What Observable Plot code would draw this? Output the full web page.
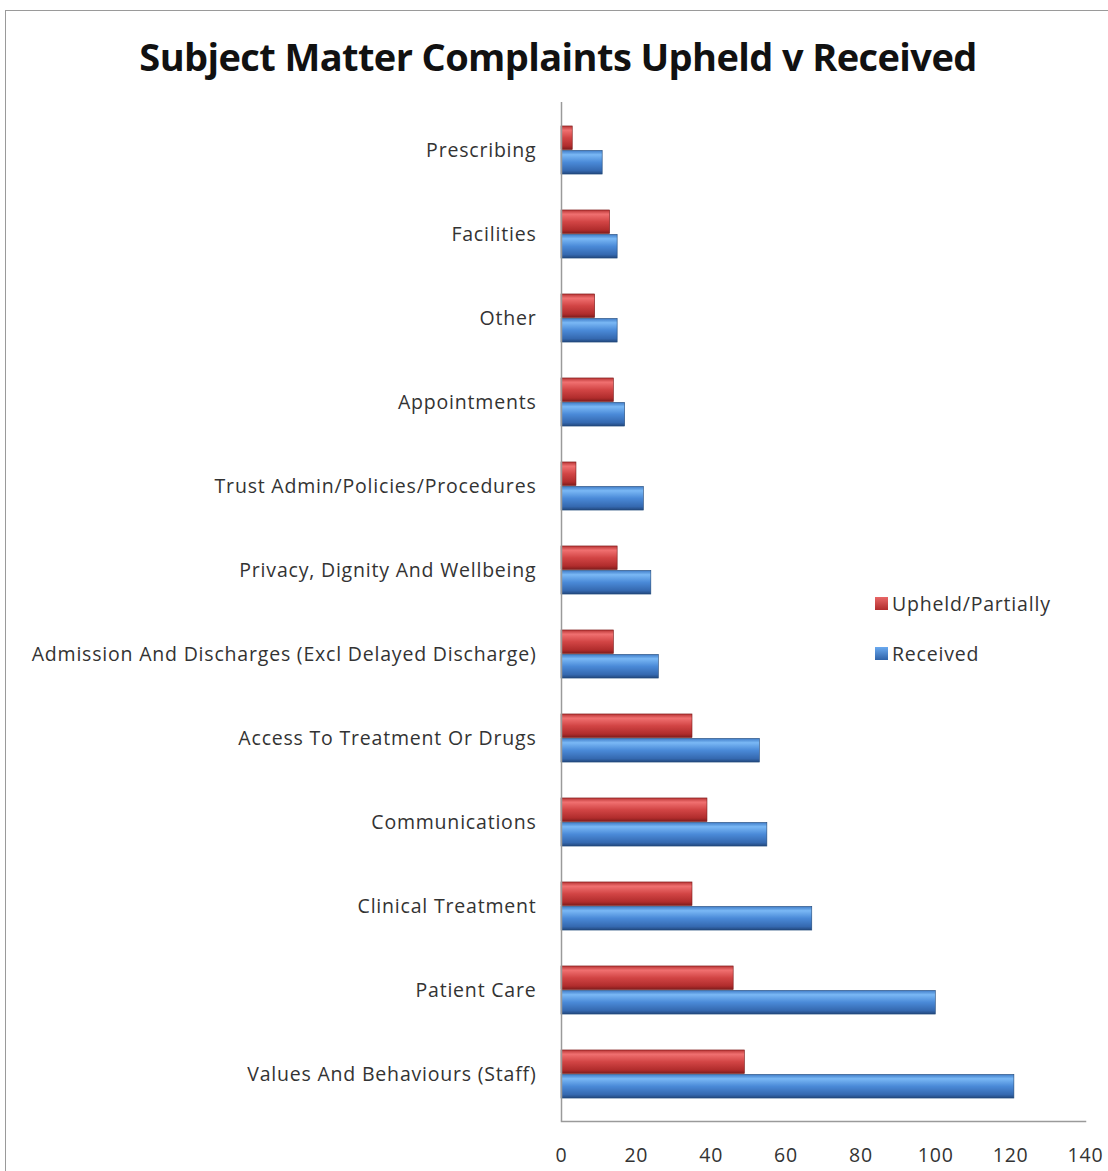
<!DOCTYPE html>
<html><head><meta charset="utf-8">
<script src="https://cdn.jsdelivr.net/npm/d3@7"></script>
<script src="https://cdn.jsdelivr.net/npm/@observablehq/plot@0.6"></script>
<style>
body{margin:0;background:#fff;}
#wrap{position:relative;width:1108px;height:1171px;overflow:hidden;font-family:"Open Sans",sans-serif;background:#fff;}
#frame{position:absolute;left:5px;top:10px;width:1200px;height:1300px;border:1.5px solid #9a9a9a;pointer-events:none;}
#title{height:95px;padding-top:16px;line-height:80px;text-align:center;font-family:"Open Sans",sans-serif;font-weight:700;font-size:38px;color:#111;letter-spacing:-0.6px;padding-left:8px;box-sizing:border-box;}
#legend{position:absolute;left:875px;top:590px;font-size:19.5px;letter-spacing:0.8px;color:#333;}
.li{display:flex;align-items:center;height:26px;margin-bottom:24px;}
.sw{width:13px;height:13px;margin-right:4px;}
</style></head><body>
<div id="wrap">
<div id="frame"></div>
<div id="title">Subject Matter Complaints Upheld v Received</div>
<div id="chart"></div>
<div id="legend"></div>
</div>
<script>
const categories = ["Prescribing","Facilities","Other","Appointments","Trust Admin/Policies/Procedures","Privacy, Dignity And Wellbeing","Admission And Discharges (Excl Delayed Discharge)","Access To Treatment Or Drugs","Communications","Clinical Treatment","Patient Care","Values And Behaviours (Staff)"];
const upheld = [3,13,9,14,4,15,14,35,39,35,46,49];
const received = [11,15,15,17,22,24,26,53,55,67,100,121];
const xTicks = [0,20,40,60,80,100,120,140];
const seriesNames = ["Upheld/Partially","Received"];

const upData = categories.map((c,i)=>({category:c, value:upheld[i]}));
const recData = categories.map((c,i)=>({category:c, value:received[i]}));

const H = 1076, mTop = 7, mBottom = 50;
const band = (H - mTop - mBottom) / categories.length;
const barH = 24.5;

const chart = Plot.plot({
  width: 1108, height: H,
  marginTop: mTop, marginBottom: mBottom, marginLeft: 561, marginRight: 23,
  style: {fontFamily: "'Open Sans', sans-serif", fontSize: "19.5px", letterSpacing: "0.8px", color: "#333", background: "transparent"},
  x: {domain: [0,140], ticks: xTicks, label: null, tickSize: 0, tickPadding: 27},
  y: {domain: categories, padding: 0, label: null, tickSize: 0, tickPadding: 25},
  marks: [
    Plot.barX(upData, {y:"category", x:"value", fill:"url(#gRed)", stroke:"#7a1a1a", strokeWidth:0.6,
      insetTop: band/2 - barH, insetBottom: band/2}),
    Plot.barX(recData, {y:"category", x:"value", fill:"url(#gBlue)", stroke:"#1f4778", strokeWidth:0.6,
      insetTop: band/2, insetBottom: band/2 - barH}),
    Plot.ruleX([0], {stroke:"#9a9a9a", strokeWidth:1.5}),
    Plot.frame({anchor:"bottom", stroke:"#9a9a9a", strokeWidth:1.5})
  ]
});

const defs = `<defs>
<linearGradient id="gRed" x1="0" y1="0" x2="0" y2="1">
<stop offset="0" stop-color="#b83434"/><stop offset="0.18" stop-color="#f07070"/><stop offset="0.5" stop-color="#d24545"/><stop offset="0.85" stop-color="#b02c2c"/><stop offset="1" stop-color="#7d1c1c"/></linearGradient>
<linearGradient id="gBlue" x1="0" y1="0" x2="0" y2="1">
<stop offset="0" stop-color="#3f7cc8"/><stop offset="0.18" stop-color="#7ab8f5"/><stop offset="0.5" stop-color="#4a8ad8"/><stop offset="0.85" stop-color="#3569b0"/><stop offset="1" stop-color="#22487e"/></linearGradient>
</defs>`;
chart.insertAdjacentHTML("afterbegin", defs);
document.getElementById("chart").appendChild(chart);

const lg = document.getElementById("legend");
const sw = ["linear-gradient(#e86666,#b02c2c)","linear-gradient(#6aaaf0,#2f62a8)"];
seriesNames.forEach((n,i)=>{
  const d = document.createElement("div"); d.className="li";
  d.innerHTML = `<span class="sw" style="background:${sw[i]}"></span><span>${n}</span>`;
  lg.appendChild(d);
});
</script>
</body></html>
